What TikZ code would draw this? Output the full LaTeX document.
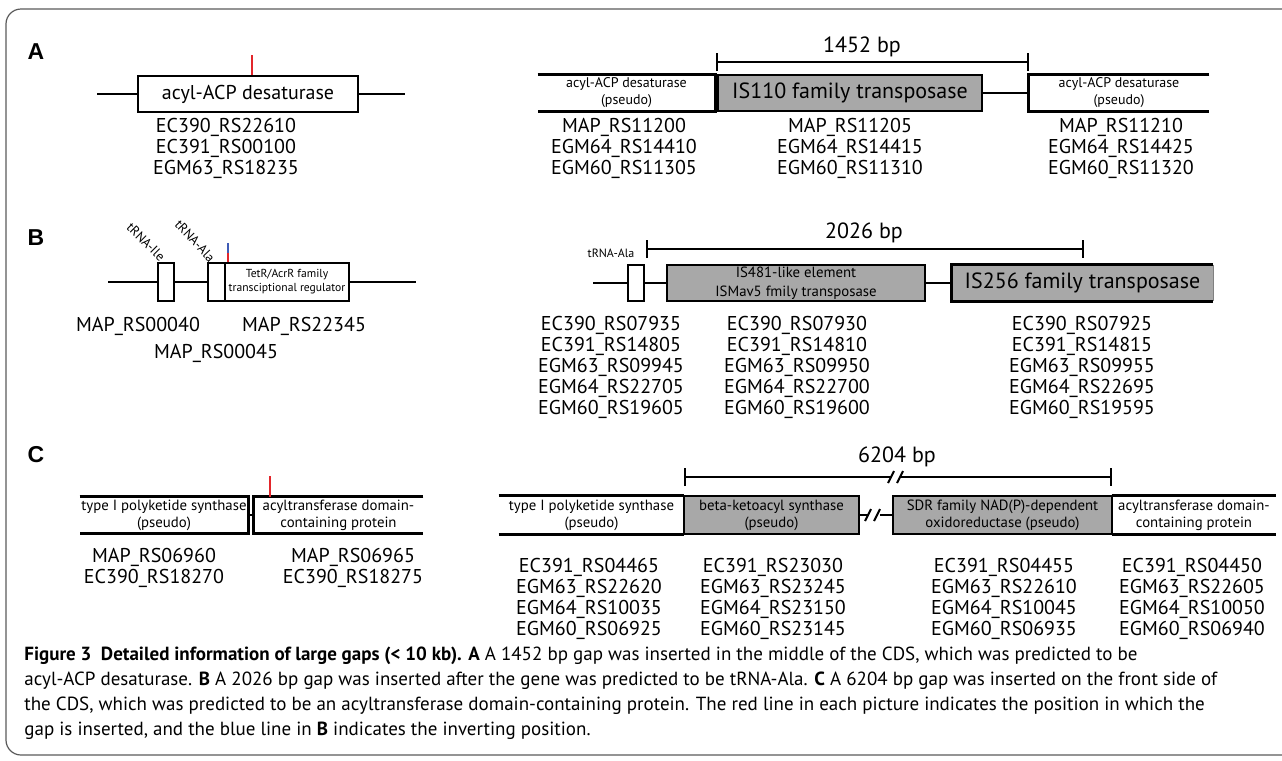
\documentclass[tikz,border=0pt]{standalone}
\usepackage{fontspec}
\setmainfont{PT Sans}
\newfontfamily\panelfont{Liberation Sans}
\usetikzlibrary{arrows.meta}
\definecolor{gapred}{HTML}{E2262B}
\definecolor{invblue}{HTML}{3E5BB5}
\definecolor{tnpgray}{HTML}{A8A8A8}
\definecolor{framegray}{HTML}{5A5A5A}

\begin{document}
\begin{tikzpicture}[x=0.5pt,y=-0.5pt,
    gene/.style={draw,line width=1.3pt,minimum height=18pt,inner sep=0pt,align=center,fill=white},
    tnp/.style={gene,fill=tnpgray},
    half/.style={minimum height=18pt,inner sep=0pt,align=center},
    dna/.style={line width=1.2pt},
    gid/.style={align=center,font=\fontsize{10}{10.5}\selectfont},
    big/.style={font=\fontsize{10}{12}\selectfont},
    bigger/.style={font=\fontsize{11}{13}\selectfont},
    small/.style={font=\fontsize{7}{8.5}\selectfont},
    span/.style={line width=1.2pt},
    bp/.style={font=\fontsize{11}{13}\selectfont},
    letter/.style={font=\panelfont\bfseries\fontsize{11.5}{13}\selectfont}]
  \useasboundingbox (0,0) rectangle (1282,761);
  \draw[framegray,line width=0.6pt,rounded corners=7.5pt] (1283,9) -- (6,9) -- (6,755) -- (1283,755);

  % A
  \node[letter] (letA) at (36,52) {A};
  \node[gene,big,minimum width=110pt] (desA) at (248,94) {acyl-ACP desaturase};
  \coordinate (dnaA1) at (97,94);
  \coordinate (dnaA2) at (405,94);
  \draw[dna] (dnaA1) -- (desA.west);
  \draw[dna] (desA.east) -- (dnaA2);
  \coordinate (gapA) at (252,55);
  \draw[gapred,line width=1pt] (gapA) -- (gapA |- desA.north);
  \node[gid] (idA) at (226,148) {EC390\_RS22610\\EC391\_RS00100\\EGM63\_RS18235};

  \node[half,small,minimum width=88.5pt] (desA1) at (626.5,93) {acyl-ACP desaturase\\(pseudo)};
  \node[tnp,bigger,minimum width=132pt] (isA) at (850,93) {IS110 family transposase};
  \node[half,small,minimum width=90pt] (desA2) at (1119,93) {acyl-ACP desaturase\\(pseudo)};
  \draw[dna] (desA1.north west) -- (desA1.north east) -- (desA1.south east) -- (desA1.south west);
  \draw[dna] (desA2.north east) -- (desA2.north west) -- (desA2.south west) -- (desA2.south east);
  \draw[dna] (desA1.east) -- (isA.west);
  \draw[dna] (isA.east) -- (desA2.west);
  \coordinate (spanA1) at (716,62);
  \coordinate (spanA2) at (1029,62);
  \draw[span,{Bar[width=9pt]}-{Bar[width=9pt]}] (spanA1) -- (spanA2);
  \node[bp] (lenA) at (862,47) {1452 bp};
  \node[gid] (idA1) at (624,148) {MAP\_RS11200\\EGM64\_RS14410\\EGM60\_RS11305};
  \node[gid] (idA2) at (850,148) {MAP\_RS11205\\EGM64\_RS14415\\EGM60\_RS11310};
  \node[gid] (idA3) at (1121,148) {MAP\_RS11210\\EGM64\_RS14425\\EGM60\_RS11320};

  % B
  \node[letter] (letB) at (36,238) {B};
  \node[gene,minimum width=8pt,minimum height=19pt] (ileB) at (166,282) {};
  \node[gene,minimum width=8.5pt,minimum height=19pt] (alaB) at (216.5,282) {};
  \node[gene,minimum width=62pt,minimum height=19pt,font=\fontsize{5.8}{7}\selectfont] (tetB) at (287,282) {TetR/AcrR family\\transciptional regulator};
  \coordinate (dnaB1) at (108,282);
  \coordinate (dnaB2) at (416,282);
  \draw[dna] (dnaB1) -- (ileB.west);
  \draw[dna] (ileB.east) -- (alaB.west);
  \draw[dna] (tetB.east) -- (dnaB2);
  \coordinate (invB) at (228,243);
  \coordinate (gapB) at (228,253);
  \draw[invblue,line width=1pt] (invB) -- (gapB);
  \draw[gapred,line width=1pt] (gapB) -- (gapB |- tetB.north);
  \node[rotate=-45,inner sep=0pt,font=\fontsize{6.6}{7}\selectfont] (tIle) at (146,242) {tRNA-Ile};
  \node[rotate=-47,inner sep=0pt,font=\fontsize{6.6}{7}\selectfont] (tAla) at (195,241) {tRNA-Ala};
  \node[gid] (idB1) at (138,326) {MAP\_RS00040};
  \node[gid] (idB2) at (304,326) {MAP\_RS22345};
  \node[gid] (idB3) at (216,353) {MAP\_RS00045};

  \node[gene,minimum width=8pt] (alaB2) at (636,283) {};
  \node[tnp,minimum width=129pt,font=\fontsize{7.4}{9.5}\selectfont] (isB1) at (796,283) {IS481-like element\\ISMav5 fmily transposase};
  \node[half,bigger,fill=tnpgray,minimum width=130.5pt] (isB2) at (1082.5,283) {IS256 family transposase};
  \draw[gray,line width=0.3pt] (isB2.north east) -- (isB2.south east);
  \draw[dna,line width=1.3pt] (isB2.north east) -- (isB2.north west) -- (isB2.south west) -- (isB2.south east);
  \coordinate (dnaB3) at (593,283);
  \draw[dna] (dnaB3) -- (alaB2.west);
  \draw[dna] (alaB2.east) -- (isB1.west);
  \draw[dna] (isB1.east) -- (isB2.west);
  \node[font=\fontsize{6}{7}\selectfont] (tAla2) at (611,253) {tRNA-Ala};
  \coordinate (spanB1) at (646,249);
  \coordinate (spanB2) at (1084,249);
  \draw[span,{Bar[width=9pt]}-{Bar[width=9pt]}] (spanB1) -- (spanB2);
  \node[bp] (lenB) at (864,233) {2026 bp};
  \node[gid] (idB4) at (611,367) {EC390\_RS07935\\EC391\_RS14805\\EGM63\_RS09945\\EGM64\_RS22705\\EGM60\_RS19605};
  \node[gid] (idB5) at (797,367) {EC390\_RS07930\\EC391\_RS14810\\EGM63\_RS09950\\EGM64\_RS22700\\EGM60\_RS19600};
  \node[gid] (idB6) at (1082,367) {EC390\_RS07925\\EC391\_RS14815\\EGM63\_RS09955\\EGM64\_RS22695\\EGM60\_RS19595};

  % C
  \node[letter] (letC) at (36,455) {C};
  \node[half,font=\fontsize{7.4}{8.5}\selectfont,minimum width=84pt] (pksC) at (164,515) {type I polyketide synthase\\(pseudo)};
  \node[half,font=\fontsize{7.4}{8.5}\selectfont,minimum width=84.5pt] (atC) at (338.5,515) {acyltransferase domain-\\containing protein};
  \draw[dna] (pksC.north west) -- (pksC.north east) -- (pksC.south east) -- (pksC.south west);
  \draw[dna] (atC.north east) -- (atC.north west) -- (atC.south west) -- (atC.south east);
  \draw[dna] (pksC.east) -- (atC.west);
  \coordinate (gapC) at (270,476);
  \draw[gapred,line width=1pt] (gapC) -- (gapC |- atC.north);
  \node[gid] (idC1) at (154,568) {MAP\_RS06960\\EC390\_RS18270};
  \node[gid] (idC2) at (353,568) {MAP\_RS06965\\EC390\_RS18275};

  \node[half,font=\fontsize{7.4}{8.5}\selectfont,minimum width=92.5pt,minimum height=19pt] (pksC2) at (591.5,515) {type I polyketide synthase\\(pseudo)};
  \node[tnp,font=\fontsize{7.4}{8.5}\selectfont,minimum width=87.5pt,minimum height=19pt] (ksC) at (771.5,515) {beta-ketoacyl synthase\\(pseudo)};
  \node[tnp,font=\fontsize{7.4}{8.5}\selectfont,minimum width=109.5pt,minimum height=19pt] (sdrC) at (1002.5,515) {SDR family NAD(P)-dependent\\oxidoreductase (pseudo)};
  \node[half,font=\fontsize{7.4}{8.5}\selectfont,minimum width=82pt,minimum height=19pt] (atC2) at (1194,515) {acyltransferase domain-\\containing protein};
  \draw[dna] (pksC2.north west) -- (pksC2.north east);
  \draw[dna] (pksC2.south west) -- (pksC2.south east);
  \draw[dna] (atC2.north west) -- (atC2.north east);
  \draw[dna] (atC2.south west) -- (atC2.south east);
  \coordinate (cutC1) at (869,515);
  \coordinate (cutC2) at (880,515);
  \draw[dna] (ksC.east) -- (cutC1);
  \draw[dna] (cutC2) -- (sdrC.west);
  \draw[line width=1pt] (865,521) -- (871,509);
  \draw[line width=1pt] (874,521) -- (880,509);
  \coordinate (spanC1) at (684,477);
  \coordinate (spanC2) at (1112,477);
  \coordinate (cutC3) at (892,477);
  \coordinate (cutC4) at (900,477);
  \draw[span,{Bar[width=9pt]}-] (spanC1) -- (cutC3);
  \draw[span,-{Bar[width=9pt]}] (cutC4) -- (spanC2);
  \draw[line width=1pt] (888,483) -- (894,471);
  \draw[line width=1pt] (897,483) -- (903,471);
  \node[bp] (lenC) at (897,457) {6204 bp};
  \node[gid] (idC3) at (589,598.5) {EC391\_RS04465\\EGM63\_RS22620\\EGM64\_RS10035\\EGM60\_RS06925};
  \node[gid] (idC4) at (773,598.5) {EC391\_RS23030\\EGM63\_RS23245\\EGM64\_RS23150\\EGM60\_RS23145};
  \node[gid] (idC5) at (1004,598.5) {EC391\_RS04455\\EGM63\_RS22610\\EGM64\_RS10045\\EGM60\_RS06935};
  \node[gid] (idC6) at (1192,598.5) {EC391\_RS04450\\EGM63\_RS22605\\EGM64\_RS10050\\EGM60\_RS06940};

  % caption
  \node[anchor=north west,align=left,inner sep=0pt,font=\fontsize{9.5}{12.5}\selectfont] (caption) at (24,647)
    {\textbf{Figure 3\enspace Detailed information of large gaps (< 10 kb). A} A 1452 bp gap was inserted in the middle of the CDS, which was predicted to be\\
     acyl-ACP desaturase. \textbf{B} A 2026 bp gap was inserted after the gene was predicted to be tRNA-Ala. \textbf{C} A 6204 bp gap was inserted on the front side of\\
     the CDS, which was predicted to be an acyltransferase domain-containing protein. The red line in each picture indicates the position in which the\\
     gap is inserted, and the blue line in \textbf{B} indicates the inverting position.};
\end{tikzpicture}
\end{document}
